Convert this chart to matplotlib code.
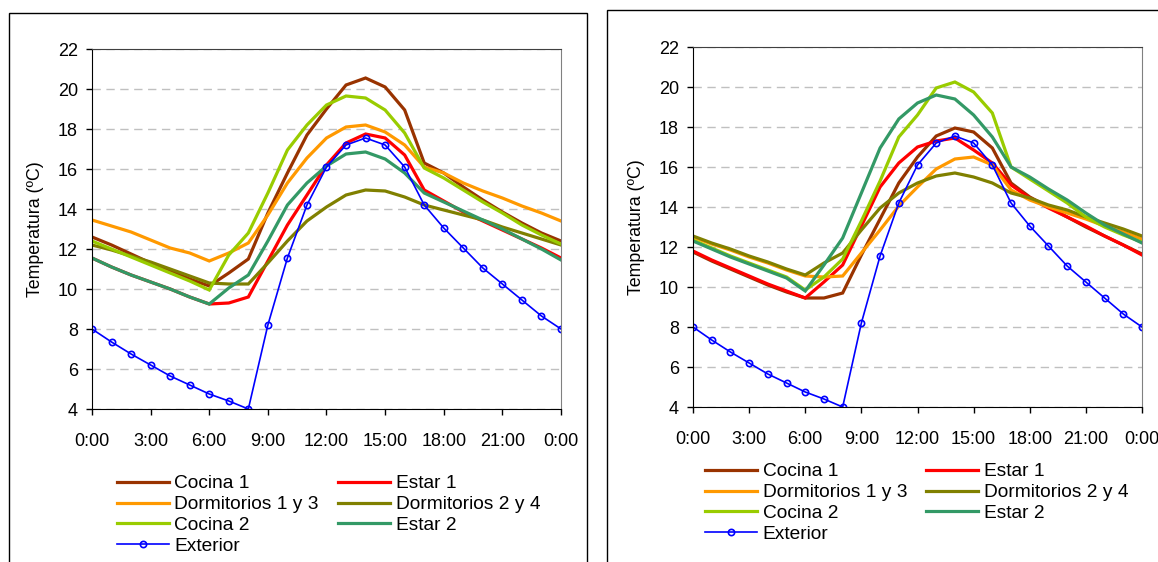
"""Hourly room temperatures vs. exterior, two cases side by side."""

import matplotlib
matplotlib.use('Agg')
import matplotlib.pyplot as plt
from matplotlib.patches import Rectangle

plt.rcParams['font.family'] = ['Liberation Sans', 'DejaVu Sans']

# ---- data (hourly, 0:00 .. 24:00) ------------------------------------------
hours = list(range(25))
tick_hours = [0, 3, 6, 9, 12, 15, 18, 21, 24]
tick_labels = ['0:00', '3:00', '6:00', '9:00', '12:00', '15:00', '18:00',
               '21:00', '0:00']
yticks = [4, 6, 8, 10, 12, 14, 16, 18, 20, 22]

names = ['Cocina 1', 'Estar 1', 'Dormitorios 1 y 3', 'Dormitorios 2 y 4',
         'Cocina 2', 'Estar 2']
colors = ['#993300', '#FF0000', '#FF9900', '#808000', '#99CC00', '#339966']

exterior = [8.0, 7.35, 6.75, 6.2, 5.65, 5.2, 4.75, 4.4, 4.0, 8.2, 11.55,
            14.2, 16.1, 17.2, 17.55, 17.2, 16.1, 14.2, 13.05, 12.05, 11.05,
            10.25, 9.45, 8.65, 8.0]

# left chart
a_cocina1 = [12.6, 12.2, 11.75, 11.3, 10.9, 10.5, 10.15, 10.8, 11.5, 13.8,
             15.8, 17.7, 19.0, 20.2, 20.55, 20.1, 18.95, 16.3, 15.8, 15.1,
             14.45, 13.85, 13.3, 12.8, 12.4]
a_estar1 = [11.55, 11.1, 10.7, 10.35, 10.0, 9.6, 9.25, 9.3, 9.6, 11.4, 13.2,
            14.7, 16.2, 17.3, 17.75, 17.55, 16.7, 14.95, 14.4, 13.85, 13.4,
            12.95, 12.5, 12.05, 11.55]
a_dorm13 = [13.45, 13.15, 12.85, 12.45, 12.05, 11.8, 11.4, 11.8, 12.3, 13.7,
            15.3, 16.55, 17.55, 18.1, 18.2, 17.85, 17.2, 16.1, 15.8, 15.3,
            14.9, 14.55, 14.15, 13.8, 13.4]
a_dorm24 = [12.2, 11.95, 11.65, 11.35, 11.0, 10.65, 10.3, 10.25, 10.25, 11.3,
            12.4, 13.4, 14.1, 14.7, 14.95, 14.9, 14.6, 14.2, 13.95, 13.7,
            13.45, 13.1, 12.8, 12.5, 12.2]
a_cocina2 = [12.4, 12.0, 11.6, 11.2, 10.8, 10.4, 9.95, 11.7, 12.8, 14.8,
             16.95, 18.2, 19.2, 19.65, 19.55, 18.95, 17.8, 16.05, 15.55, 14.95,
             14.35, 13.8, 13.2, 12.7, 12.25]
a_estar2 = [11.55, 11.1, 10.7, 10.35, 10.0, 9.6, 9.25, 10.05, 10.7, 12.4,
            14.2, 15.3, 16.15, 16.75, 16.85, 16.5, 15.8, 14.8, 14.35, 13.9,
            13.45, 13.0, 12.5, 12.0, 11.45]

# right chart
b_cocina1 = [11.75, 11.3, 10.9, 10.5, 10.1, 9.75, 9.45, 9.45, 9.7, 11.6,
             13.4, 15.2, 16.5, 17.55, 17.95, 17.75, 16.95, 15.2, 14.5, 14.0,
             13.5, 13.0, 12.55, 12.1, 11.65]
b_estar1 = [11.8, 11.35, 10.95, 10.55, 10.15, 9.8, 9.45, 10.25, 11.1, 13.05,
            15.0, 16.2, 17.0, 17.3, 17.45, 16.85, 16.2, 15.1, 14.45, 13.95,
            13.5, 13.05, 12.55, 12.1, 11.6]
b_dorm13 = [12.5, 12.15, 11.85, 11.5, 11.2, 10.85, 10.55, 10.5, 10.55, 11.7,
            12.85, 14.05, 15.0, 15.9, 16.4, 16.5, 16.1, 14.85, 14.35, 14.0,
            13.7, 13.4, 13.05, 12.75, 12.4]
b_dorm24 = [12.55, 12.2, 11.9, 11.55, 11.25, 10.9, 10.6, 11.2, 11.7, 12.85,
            13.95, 14.7, 15.2, 15.55, 15.7, 15.5, 15.2, 14.7, 14.45, 14.1,
            13.85, 13.5, 13.2, 12.9, 12.55]
b_cocina2 = [12.35, 11.95, 11.55, 11.2, 10.85, 10.5, 9.85, 10.5, 11.4, 13.3,
             15.3, 17.5, 18.6, 19.95, 20.25, 19.75, 18.7, 16.0, 15.4, 14.8,
             14.2, 13.5, 13.0, 12.6, 12.25]
b_estar2 = [12.3, 11.9, 11.5, 11.15, 10.8, 10.45, 9.8, 11.1, 12.45, 14.7,
            16.95, 18.4, 19.2, 19.6, 19.4, 18.6, 17.5, 16.0, 15.5, 14.9,
            14.35, 13.7, 13.1, 12.65, 12.2]

W, H = 1158, 562
fig = plt.figure(figsize=(W / 100, H / 100), dpi=100)

# chart frames (Excel chart-area borders)
fig.add_artist(Rectangle((9 / W, -0.02), 578 / W, 1.02 - 13 / H,
                         transform=fig.transFigure, fill=False,
                         ec='black', lw=1.0))
fig.add_artist(Rectangle((607 / W, -0.02), 0.6, 1.02 - 10 / H,
                         transform=fig.transFigure, fill=False,
                         ec='black', lw=1.0))


def panel(rect, rooms, leg_xy):
    ax = fig.add_axes(rect)
    handles = []
    for vals, name, col in zip(rooms, names, colors):
        h, = ax.plot(hours, vals, color=col, lw=2.3, label=name,
                     solid_joinstyle='miter')
        handles.append(h)
    hx, = ax.plot(hours, exterior, color='#0000FF', lw=1.2, marker='o',
                  ms=4.5, mfc='none', mew=1.2, label='Exterior')

    ax.set_xlim(0, 24)
    ax.set_ylim(4, 22)
    ax.set_xticks(tick_hours)
    ax.set_xticklabels(tick_labels)
    ax.set_yticks(yticks)
    ax.tick_params(labelsize=13, length=4, width=1, colors='black')
    ax.tick_params(axis='x', pad=13)
    ax.tick_params(axis='y', pad=6)
    ax.grid(axis='y', color='#C0C0C0', ls=(0, (6, 4)), lw=1.0)
    ax.set_axisbelow(True)
    ax.spines['left'].set_color('black')
    ax.spines['bottom'].set_color('black')
    ax.spines['top'].set_color('#404040')
    ax.spines['right'].set_color('#808080')
    ax.set_ylabel('Temperatura (ºC)', fontsize=12.8, labelpad=10)

    # Excel order is row-wise, matplotlib fills column-wise
    order = [handles[0], handles[2], handles[4], hx,
             handles[1], handles[3], handles[5]]
    fig.legend(handles=order, labels=[h.get_label() for h in order],
               loc='upper left', bbox_to_anchor=leg_xy, ncol=2,
               frameon=False, fontsize=13.8, borderpad=0, borderaxespad=0,
               handlelength=2.7, handletextpad=0.3, labelspacing=0.18,
               columnspacing=1.0)
    return ax


panel([92 / W, 1 - 409 / H, 469 / W, 360 / H],
      [a_cocina1, a_estar1, a_dorm13, a_dorm24, a_cocina2, a_estar2],
      (117 / W, 1 - 475 / H))
panel([693 / W, 1 - 407 / H, 449 / W, 360 / H],
      [b_cocina1, b_estar1, b_dorm13, b_dorm24, b_cocina2, b_estar2],
      (705 / W, 1 - 463 / H))

fig.savefig('out.png', dpi=100)
